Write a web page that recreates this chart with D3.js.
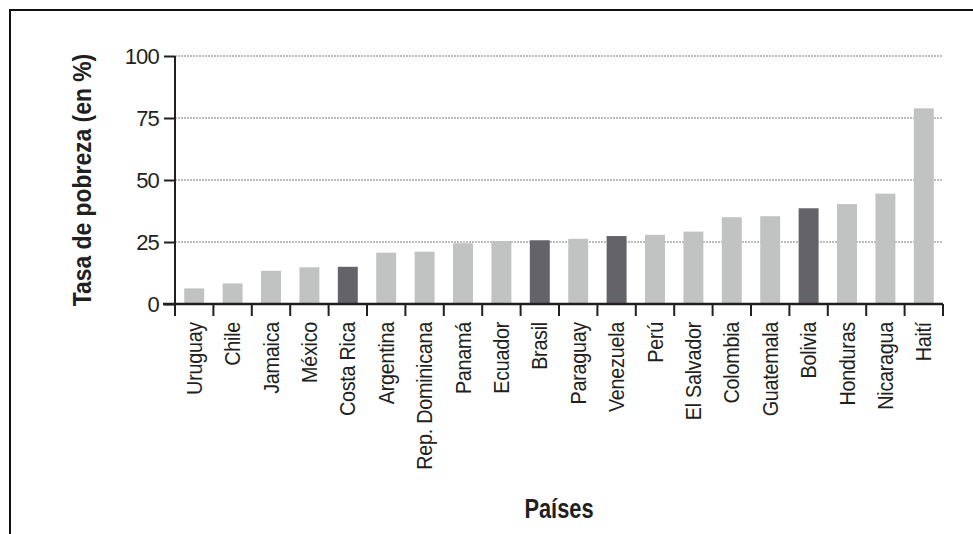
<!DOCTYPE html>
<html lang="es">
<head>
<meta charset="UTF-8">
<title>Tasa de pobreza</title>
<script src="https://d3js.org/d3.v7.min.js"></script>
<style>
    body { margin: 0; background: #fff; }
    svg text { font-family: "Liberation Sans Narrow", "Liberation Sans", Arial, sans-serif; fill: #231f20; }
</style>
</head>
<body>
<div id="chart"></div>
<script>
// datos
const paises = ["Uruguay", "Chile", "Jamaica", "México", "Costa Rica", "Argentina",
    "Rep. Dominicana", "Panamá", "Ecuador", "Brasil", "Paraguay", "Venezuela", "Perú",
    "El Salvador", "Colombia", "Guatemala", "Bolivia", "Honduras", "Nicaragua", "Haití"];
const tasas = [6.3, 8.3, 13.4, 14.8, 15.0, 20.7, 21.1, 24.5, 25.4, 25.7, 26.3, 27.4, 27.9,
    29.2, 35.0, 35.4, 38.6, 40.3, 44.5, 78.9];
const destacados = ["Costa Rica", "Brasil", "Venezuela", "Bolivia"];
const yTicks = [0, 25, 50, 75, 100];

const width = 973, height = 534;
const margin = { top: 56, left: 175 };
const plotRight = 943, plotBottom = 304;

const svg = d3.select("#chart").append("svg")
    .attr("width", width)
    .attr("height", height);

// marco
svg.append("path")
    .attr("d", `M10,${height + 5}V10H${width + 5}`)
    .attr("fill", "none")
    .attr("stroke", "#111")
    .attr("stroke-width", 2);

const x = d3.scaleBand()
    .domain(paises)
    .range([margin.left, plotRight])
    .paddingInner(0.48)
    .paddingOuter(0.24);

const y = d3.scaleLinear()
    .domain([0, 100])
    .range([plotBottom, margin.top]);

// líneas de guía punteadas
svg.append("g")
    .selectAll("line")
    .data(yTicks.filter(d => d > 0))
    .enter().append("line")
    .attr("x1", margin.left)
    .attr("x2", plotRight)
    .attr("y1", d => y(d))
    .attr("y2", d => y(d))
    .attr("stroke", "#7a7a7a")
    .attr("stroke-width", 1.2)
    .attr("stroke-dasharray", "2,1");

// barras
svg.append("g")
    .selectAll("rect")
    .data(paises)
    .enter().append("rect")
    .attr("x", d => x(d))
    .attr("width", x.bandwidth())
    .attr("y", (d, i) => y(tasas[i]))
    .attr("height", (d, i) => y(0) - y(tasas[i]))
    .attr("fill", d => destacados.includes(d) ? "#646367" : "#c1c3c3");

// eje y
const yAxis = svg.append("g")
    .attr("transform", `translate(${margin.left},0)`)
    .call(d3.axisLeft(y).tickValues(yTicks).tickSize(11).tickPadding(3).tickSizeOuter(0));
yAxis.select(".domain").attr("d", `M0,${y(100)}V${plotBottom + 12}`)
    .attr("stroke", "#231f20").attr("stroke-width", 2);
yAxis.selectAll(".tick line").attr("stroke", "#231f20").attr("stroke-width", 2);
yAxis.selectAll(".tick text")
    .attr("font-size", 22)
    .attr("letter-spacing", "-0.8px")
    .attr("x", -16)
    .attr("dy", "0.36em");

// eje x
const xAxis = svg.append("g")
    .attr("transform", `translate(0,${plotBottom})`);
xAxis.append("line")
    .attr("x1", margin.left - 12)
    .attr("x2", plotRight)
    .attr("stroke", "#231f20")
    .attr("stroke-width", 2.4);
xAxis.selectAll(".sep")
    .data(d3.range(paises.length + 1))
    .enter().append("line")
    .attr("class", "sep")
    .attr("x1", i => margin.left + i * x.step())
    .attr("x2", i => margin.left + i * x.step())
    .attr("y1", 0)
    .attr("y2", 12)
    .attr("stroke", "#231f20")
    .attr("stroke-width", 2);
xAxis.selectAll(".lbl")
    .data(paises)
    .enter().append("text")
    .attr("class", "lbl")
    .attr("transform", d => `translate(${x(d) + x.bandwidth() / 2 + 7.5},18) rotate(-90) scale(0.9,1)`)
    .attr("text-anchor", "end")
    .attr("font-size", 22)
    .attr("letter-spacing", "-0.3px")
    .text(d => d);

// títulos
svg.append("text")
    .attr("transform", `translate(91,${(y(0) + y(100)) / 2}) rotate(-90) scale(0.88,1)`)
    .attr("text-anchor", "middle")
    .attr("font-size", 26)
    .attr("font-weight", "bold")
    .text("Tasa de pobreza (en %)");

svg.append("text")
    .attr("transform", `translate(${(margin.left + plotRight) / 2},518) scale(0.78,1)`)
    .attr("text-anchor", "middle")
    .attr("font-size", 28)
    .attr("font-weight", "bold")
    .text("Países");
</script>
</body>
</html>
